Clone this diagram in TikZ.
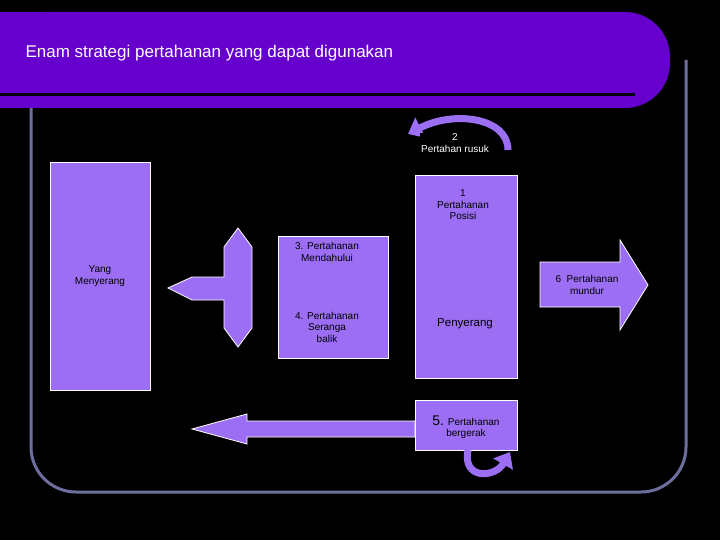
\documentclass[tikz,border=0pt]{standalone}
\usepackage{fontspec}
\setmainfont{Liberation Sans}
\usetikzlibrary{arrows.meta}
\definecolor{lav}{HTML}{9B6EF3}
\definecolor{barp}{HTML}{6600CC}
\definecolor{frm}{HTML}{6E6E9E}
\begin{document}
\begin{tikzpicture}[x=1pt,y=-1pt,
  shp/.style={fill=lav,draw=white,line width=0.8pt},
  lbl/.style={font=\fontsize{10}{11.5}\selectfont,align=center,text=black},
  carrow/.style={draw=lav,line width=7pt,-{Triangle[length=14pt,width=22pt]}}]
\fill[black] (0,0) rectangle (720,540);
\useasboundingbox (0,0) rectangle (720,540);
% frame
\draw[frm,line width=3pt,rounded corners=45pt] (31,60) -- (31,492) -- (686,492) -- (686,60);
% title bar
\fill[barp,rounded corners=45pt] (0,12) -- (670,12) -- (670,108) -- (0,108) -- cycle;
\fill[barp] (0,12) rectangle (60,108);
\draw[black,line width=3pt] (0,95) -- (635,95);
\node[anchor=west,text=white,font=\fontsize{17}{20}\selectfont] (title) at (22,53) {Enam strategi pertahanan yang dapat digunakan};
% boxes
\node[shp,minimum width=100pt,minimum height=228pt,inner sep=0pt] (ym) at (100,276) {};
\node[lbl] at (ym) {Yang\\Menyerang};
\draw[shp] (238,228) -- (252,247) -- (252,328) -- (238,347) -- (224,328) -- (224,300) -- (192,300) -- (168,288) -- (192,277) -- (224,277) -- (224,247) -- cycle;
\node[shp,minimum width=110pt,minimum height=122pt,inner sep=0pt] (b34) at (333,297) {};
\node[lbl] (t3) at (327,252) {3. Pertahanan\\Mendahului};
\node[lbl] (t4) at (327,327) {4. Pertahanan\\Seranga\\balik};
\node[shp,minimum width=102pt,minimum height=203pt,inner sep=0pt] (b1) at (466,276.5) {};
\node[lbl] (t1) at (463,205) {1\\Pertahanan\\Posisi};
\node[lbl,font=\fontsize{11.5}{13}\selectfont] (tp) at (465,324) {Penyerang};
% right arrow
\draw[shp] (540,262) -- (620,262) -- (620,240) -- (648,285) -- (620,330) -- (620,307) -- (540,307) -- cycle;
\node[lbl] (t6) at (587,285) {6~ Pertahanan\\mundur};
% bottom arrow
\draw[shp] (415,421) -- (247,421) -- (247,414) -- (192,429) -- (247,444) -- (247,437) -- (415,437) -- cycle;
\node[shp,minimum width=102pt,minimum height=50pt,inner sep=0pt] (b5) at (466,425) {};
\node[lbl] (t5) at (466,427) {{\fontsize{14}{15}\selectfont 5.} Pertahanan\\bergerak};
% curved arrows
\draw[carrow] (508,150) .. controls (508,118) and (455,110) .. (408,134);
\draw[carrow] (468,450) .. controls (462,480) and (495,478) .. (510,452);
\node[lbl,text=white,fill=black,inner sep=1pt] (t2) at (455,143) {2\\Pertahan rusuk};
\end{tikzpicture}
\end{document}
